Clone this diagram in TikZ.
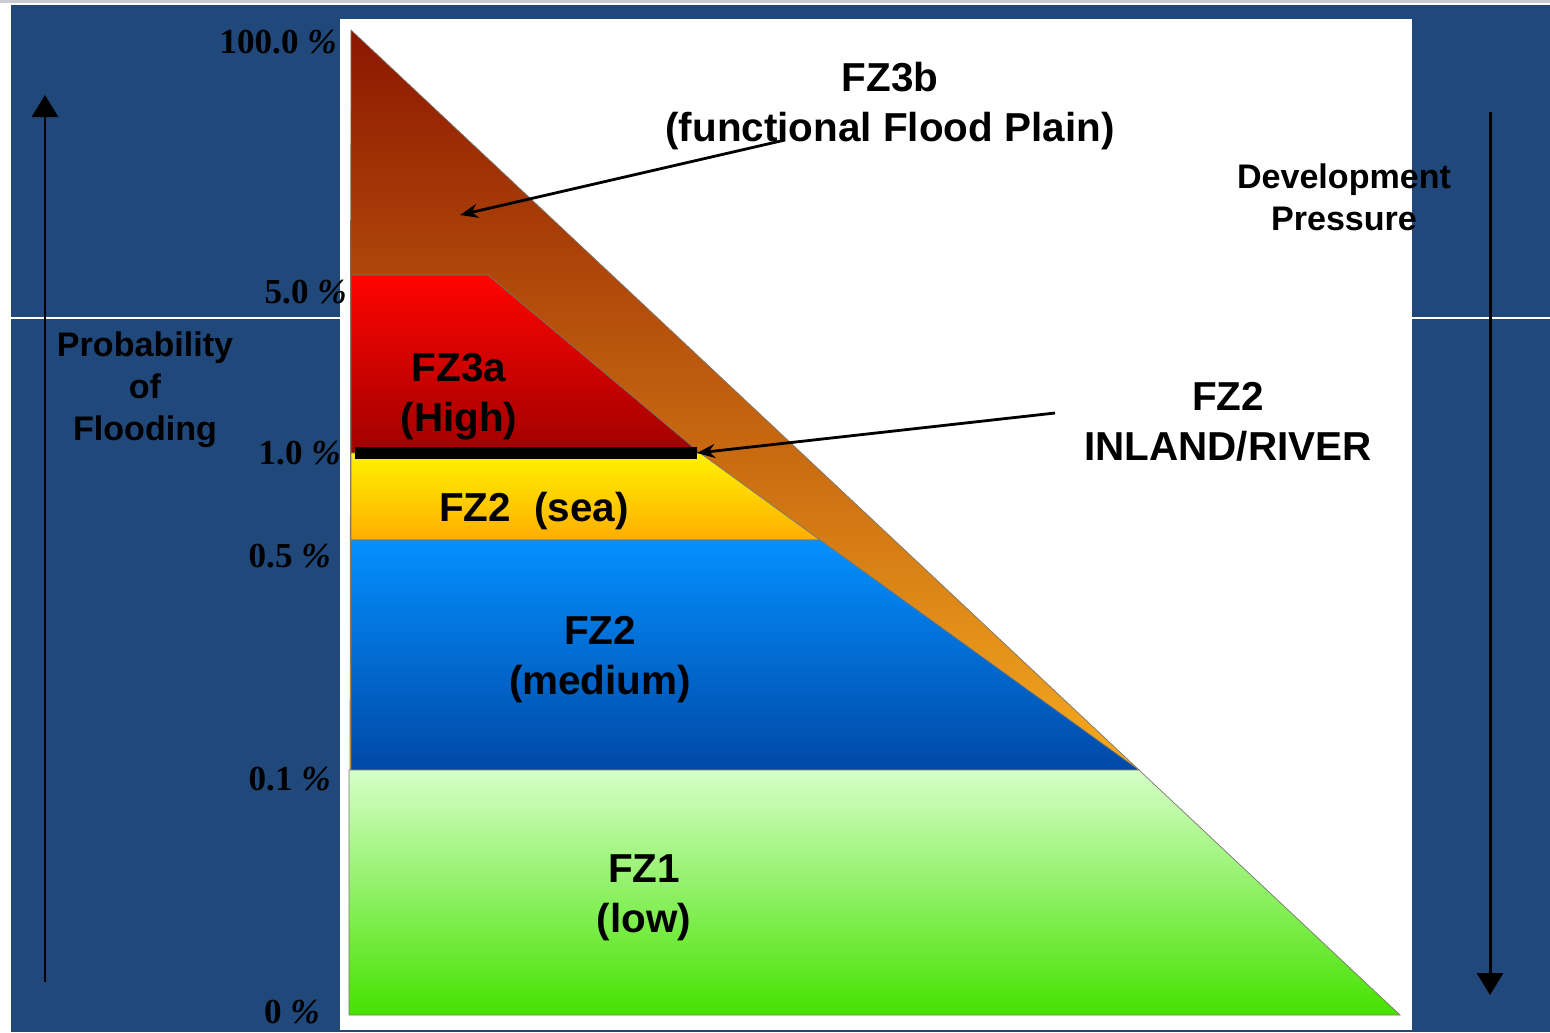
\documentclass[tikz,border=0pt]{standalone}
\usepackage{fontspec}
\setmainfont{Liberation Serif}
\setsansfont{Liberation Sans}
\usetikzlibrary{arrows.meta}

\definecolor{floodBackdrop}{RGB}{33,72,122}
\definecolor{floodStrip}{RGB}{200,203,208}
\definecolor{floodEdge}{RGB}{120,120,110}
\definecolor{floodPlainTop}{RGB}{140,22,0}
\definecolor{floodPlainMid}{RGB}{200,88,0}
\definecolor{floodPlainLow}{RGB}{246,170,30}
\definecolor{floodHighTop}{RGB}{255,4,0}
\definecolor{floodHighLow}{RGB}{160,0,0}
\definecolor{floodSeaTop}{RGB}{255,242,0}
\definecolor{floodSeaLow}{RGB}{255,174,0}
\definecolor{floodMediumTop}{RGB}{4,144,255}
\definecolor{floodMediumLow}{RGB}{0,72,166}
\definecolor{floodLowTop}{RGB}{214,255,200}
\definecolor{floodLowLow}{RGB}{70,226,0}

\begin{document}
\begin{tikzpicture}[x=.02cm,y=-.02cm,
      zone/.style={font=\fontsize{23}{28.4}\selectfont\sffamily\bfseries,
        text=black, align=center},
      side/.style={font=\fontsize{19.4}{23.9}\selectfont\sffamily\bfseries,
        text=black, align=center},
      level/.style={font=\fontsize{20}{22}\selectfont\rmfamily\bfseries,
        text=black, anchor=east, inner xsep=0pt},
      axis/.style={draw=black, line width=1.7pt,
        -{Triangle[length=.44cm,width=.52cm]}},
      pointer/.style={draw=black, line width=1.6pt,
        -{Stealth[length=.36cm,width=.28cm]}},
      band/.style={draw=floodEdge, line width=.4pt}]
      \useasboundingbox (0,0) rectangle (1550,1032);
      \fill[white] (0,0) rectangle (1550,1032);
      \fill[floodStrip] (0,0) rectangle (1550,3);
      \fill[floodBackdrop] (11,5) rectangle (1550,1032);
      \draw[white, line width=.8pt] (11,318) -- (1550,318);
      \fill[white] (340,19) rectangle (1412,1030);

      % zones
      \shade[band, top color=floodPlainTop, middle color=floodPlainMid,
        bottom color=floodPlainLow]
        (351,30) -- (1139,770) -- (350,770) -- cycle;
      \shade[band, top color=floodHighTop, bottom color=floodHighLow]
        (351,275) -- (488,275) -- (700,453) -- (351,453) -- cycle;
      \shade[band, top color=floodSeaTop, bottom color=floodSeaLow]
        (351,453) -- (700,453) -- (820,540) -- (351,540) -- cycle;
      \shade[band, top color=floodMediumTop, bottom color=floodMediumLow]
        (351,540) -- (820,540) -- (1139,770) -- (351,770) -- cycle;
      \shade[band, top color=floodLowTop, bottom color=floodLowLow]
        (349,770) -- (1139,770) -- (1400,1015) -- (349,1015) -- cycle;
      \fill[black] (355,447) rectangle (697,459);

      \node[zone] (fzThreeB) at (890,106) {FZ3b\\(functional Flood Plain)};
      \node[zone] (fzThreeA) at (459,397) {FZ3a\\(High)};
      \node[zone] (fzSea) at (534,511) {FZ2\hspace{.3em} (sea)};
      \node[zone] (fzMedium) at (600,660) {FZ2\\(medium)};
      \node[zone] (fzLow) at (644,898) {FZ1\\(low)};
      \node[zone] (fzInland) at (1228,422) {FZ2\\INLAND/RIVER};
      \node[side] (devPressure) at (1344,197) {Development\\Pressure};
      \node[side] (probFlood) at (145,390) {Probability\\of\\Flooding};

      \node[level] (lvHundred) at (337,42) {100.0 \textit{\%}};
      \node[level] (lvFive) at (347,292) {5.0 \textit{\%}};
      \node[level] (lvOne) at (341,453) {1.0 \textit{\%}};
      \node[level] (lvHalf) at (331,556) {0.5 \textit{\%}};
      \node[level] (lvTenth) at (331,779) {0.1 \textit{\%}};
      \node[level] (lvZero) at (320,1012) {0 \textit{\%}};

      % arrows
      \coordinate (probBottom) at (45,982);
      \coordinate (probTop) at (45,95);
      \draw[axis] (probBottom) -- (probTop);
      \coordinate (devTop) at (1490,112);
      \coordinate (devBottom) at (1490,995);
      \draw[axis] (devTop) -- (devBottom);
      \coordinate (plainTail) at (785,140);
      \coordinate (plainHead) at (460,215);
      \draw[pointer] (plainTail) -- (plainHead);
      \coordinate (inlandTail) at (1055,413);
      \coordinate (barEnd) at (697,453);
      \draw[pointer] (inlandTail) -- (barEnd);
    \end{tikzpicture}
\end{document}
